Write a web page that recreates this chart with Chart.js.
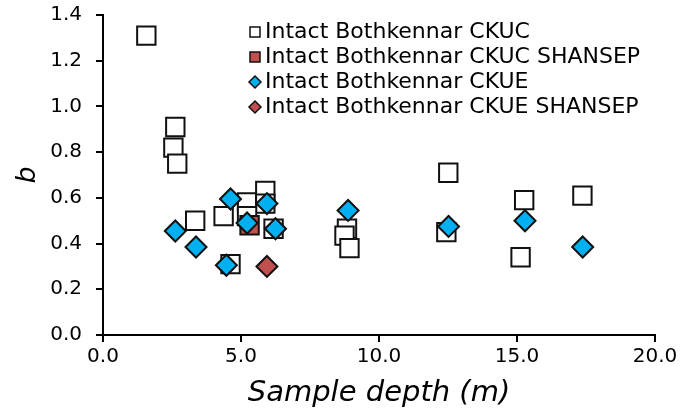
<!DOCTYPE html>
<html>
<head>
<meta charset="utf-8">
<script src="https://cdn.jsdelivr.net/npm/chart.js@4"></script>
<style>
  html, body { margin: 0; padding: 0; background: #fff; }
  #wrap { width: 694px; height: 416px; }
</style>
</head>
<body>
<div id="wrap"><canvas id="c" width="694" height="416"></canvas></div>
<script>
// values
const seriesLabels = ['Intact Bothkennar CKUC', 'Intact Bothkennar CKUC SHANSEP', 'Intact Bothkennar CKUE', 'Intact Bothkennar CKUE SHANSEP'];

const ckucDepth = [1.57, 2.62, 2.55, 2.69, 3.34, 4.37, 5.22, 5.88, 5.88, 5.22, 6.18, 4.62, 8.84, 8.75, 8.93, 12.51, 12.44, 15.26, 15.13, 17.37];
const ckucB     = [1.31, 0.91, 0.82, 0.75, 0.50, 0.52, 0.58, 0.63, 0.575, 0.52, 0.465, 0.31, 0.465, 0.435, 0.38, 0.71, 0.45, 0.59, 0.34, 0.61];

const ckucShDepth = [5.31];
const ckucShB     = [0.48];

const ckueDepth = [2.62, 3.37, 4.62, 4.47, 5.22, 5.94, 6.25, 8.88, 12.52, 15.29, 17.38];
const ckueB     = [0.455, 0.385, 0.595, 0.305, 0.49, 0.575, 0.465, 0.545, 0.475, 0.50, 0.385];

const ckueShDepth = [5.94];
const ckueShB     = [0.30];

const FONT = '"DejaVu Sans", Verdana, sans-serif';

function pts(xs, ys){ return xs.map((x,i)=>({ x, y: ys[i] })); }

const styles = [
  { style:'rect',    fill:'#ffffff', r:13 },
  { style:'rect',    fill:'#c0504d', r:13 },
  { style:'rectRot', fill:'#00b0f0', r:10.5 },
  { style:'rectRot', fill:'#c0504d', r:10.5 }
];
const sets = [ pts(ckucDepth, ckucB), pts(ckucShDepth, ckucShB), pts(ckueDepth, ckueB), pts(ckueShDepth, ckueShB) ];

// draw legend inside the plot, top right
const legendPlugin = {
  id: 'inLegend',
  afterDraw(chart){
    const ctx = chart.ctx;
    ctx.save();
    ctx.font = '22px ' + FONT;
    ctx.textBaseline = 'middle';
    const rows = [32, 57, 82, 107];
    seriesLabels.forEach((lab, i)=>{
      const s = styles[i];
      const mx = 255, my = rows[i];
      ctx.fillStyle = s.fill; ctx.strokeStyle = '#111'; ctx.lineWidth = 1.5;
      ctx.beginPath();
      if (s.style === 'rect') ctx.rect(mx-5, my-5, 10, 10);
      else { ctx.moveTo(mx, my-6); ctx.lineTo(mx+6, my); ctx.lineTo(mx, my+6); ctx.lineTo(mx-6, my); ctx.closePath(); }
      ctx.fill(); ctx.stroke();
      ctx.fillStyle = '#000';
      ctx.fillText(lab, 265, my);
    });
    ctx.restore();
  }
};

new Chart(document.getElementById('c'), {
  type: 'scatter',
  data: {
    datasets: sets.map((d, i)=>({
      label: seriesLabels[i],
      data: d,
      pointStyle: styles[i].style,
      pointRadius: styles[i].r,
      pointHoverRadius: styles[i].r,
      backgroundColor: styles[i].fill,
      borderColor: '#111',
      borderWidth: 2,
      order: 4 - i
    }))
  },
  options: {
    responsive: false,
    animation: false,
    layout: { padding: { top: 13, right: 39, left: 0, bottom: 0 } },
    plugins: { legend: { display: false }, tooltip: { enabled: false } },
    scales: {
      x: {
        type: 'linear', min: 0, max: 20,
        afterFit(s){ s.height = 81; s.paddingLeft = 0; s.paddingRight = 0; },
        ticks: { stepSize: 5, callback: v => v.toFixed(1), color: '#000', font: { family: FONT, size: 20 }, padding: 3, maxRotation: 0 },
        grid: { display: true, drawOnChartArea: false, drawTicks: true, tickLength: 7, color: '#000', lineWidth: 2 },
        border: { display: true, color: '#000', width: 2 },
        title: { display: true, text: 'Sample depth (m)', color: '#000', font: { family: FONT, size: 29, style: 'italic' }, padding: { top: 0, bottom: 5 } }
      },
      y: {
        type: 'linear', min: 0, max: 1.4,
        afterFit(s){ s.width = 103; s.paddingTop = 0; s.paddingBottom = 0; },
        ticks: { stepSize: 0.2, callback: v => v.toFixed(1), color: '#000', font: { family: FONT, size: 20 }, padding: 14 },
        grid: { display: true, drawOnChartArea: false, drawTicks: true, tickLength: 7, color: '#000', lineWidth: 2 },
        border: { display: true, color: '#000', width: 2 },
        title: { display: true, text: 'b', color: '#000', font: { family: FONT, size: 27, style: 'italic' }, padding: { top: 12, bottom: 0 } }
      }
    }
  },
  plugins: [legendPlugin]
});
</script>
</body>
</html>
